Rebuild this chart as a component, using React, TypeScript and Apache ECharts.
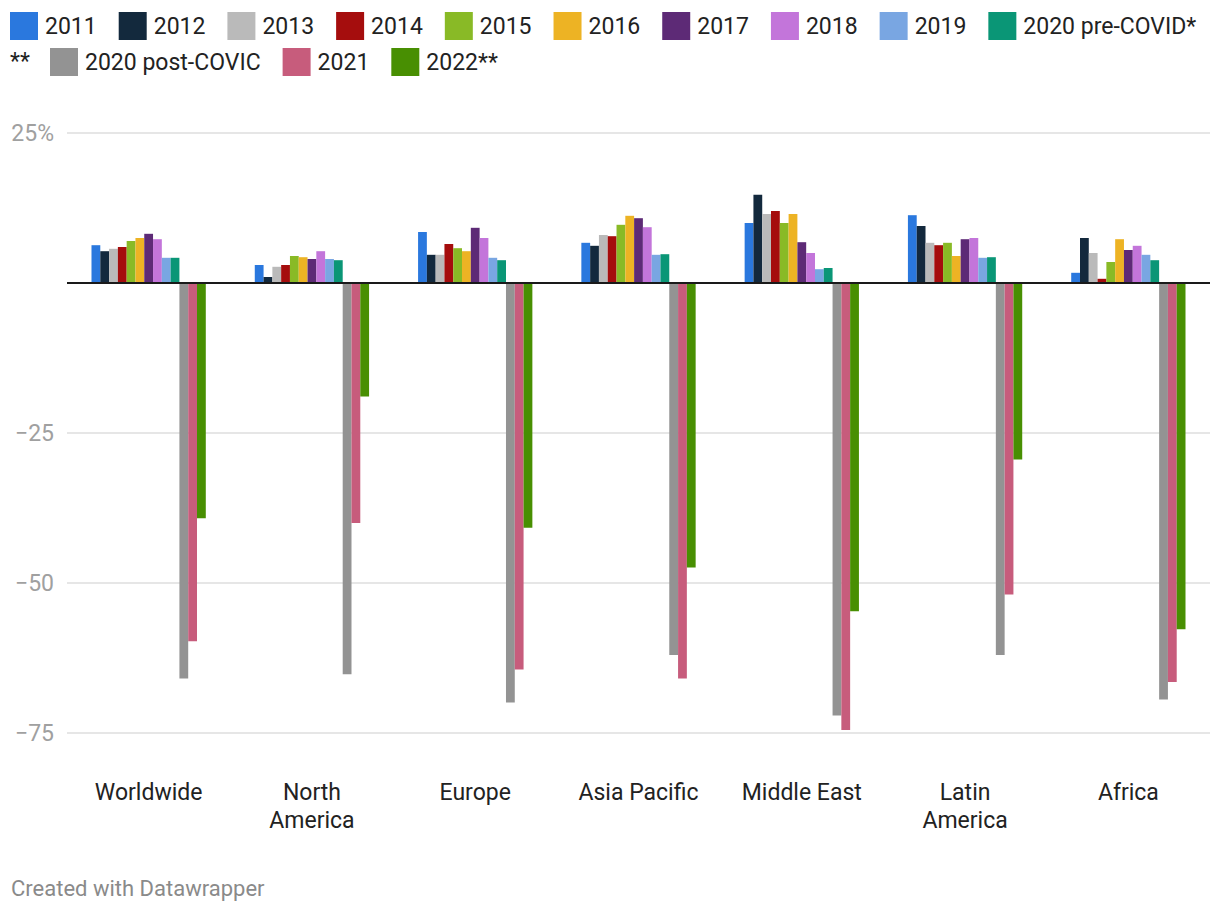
import React, { useEffect, useRef } from "react";
import * as echarts from "echarts";

const regions = ["Worldwide", "North\nAmerica", "Europe", "Asia Pacific", "Middle East", "Latin\nAmerica", "Africa"];

const seriesNames = [
  "2011", "2012", "2013", "2014", "2015", "2016", "2017", "2018", "2019",
  "2020 pre-COVID*", "2020 post-COVIC", "2021", "2022**",
];

const v2011 = [6.3, 3.0, 8.5, 6.7, 10.0, 11.3, 1.7];
const v2012 = [5.3, 1.0, 4.7, 6.2, 14.7, 9.5, 7.5];
const v2013 = [5.7, 2.7, 4.7, 8.0, 11.5, 6.7, 5.0];
const v2014 = [6.0, 3.0, 6.5, 7.8, 12.0, 6.3, 0.7];
const v2015 = [7.0, 4.5, 5.8, 9.7, 10.0, 6.7, 3.5];
const v2016 = [7.5, 4.3, 5.3, 11.2, 11.5, 4.5, 7.3];
const v2017 = [8.2, 4.0, 9.2, 10.8, 6.8, 7.3, 5.5];
const v2018 = [7.3, 5.3, 7.5, 9.3, 5.0, 7.5, 6.2];
const v2019 = [4.2, 4.0, 4.2, 4.7, 2.3, 4.2, 4.7];
const v2020pre = [4.2, 3.8, 3.8, 4.8, 2.5, 4.3, 3.8];
const v2020post = [-65.9, -65.2, -69.9, -62.0, -72.1, -62.0, -69.4];
const v2021 = [-59.7, -40.0, -64.4, -65.9, -74.5, -51.9, -66.5];
const v2022 = [-39.2, -18.9, -40.8, -47.4, -54.7, -29.4, -57.7];

const seriesValues = [v2011, v2012, v2013, v2014, v2015, v2016, v2017, v2018, v2019, v2020pre, v2020post, v2021, v2022];

const colors = [
  "#2a78de", "#13293d", "#bababa", "#a50d0d", "#89ba26", "#edb324", "#5d2a76",
  "#c375da", "#79a6e2", "#0a9676", "#939393", "#c75c7c", "#488f02",
];

const yTicks = [25, 0, -25, -50, -75];
const yTickLabels = ["25%", "", "\u221225", "\u221250", "\u221275"];

const legendRow1 = seriesNames.slice(0, 10);
const legendRow2 = seriesNames.slice(10);

const FONT = "Roboto, 'Noto Sans', sans-serif";

export default function App() {
  const ref = useRef<HTMLDivElement>(null);

  useEffect(() => {
    if (!ref.current) return;
    const chart = echarts.init(ref.current, undefined, { renderer: "svg" });

    const series = seriesNames.map((name, i) => {
      const s: any = {
        name,
        type: "bar",
        data: seriesValues[i],
        itemStyle: { color: colors[i] },
        barGap: "0%",
        barCategoryGap: "30%",
        emphasis: { disabled: true },
      };
      if (i === 0) {
        s.markLine = {
          silent: true,
          symbol: ["none", "none"],
          label: { show: false },
          lineStyle: { color: "#1a1a1a", width: 2, type: "solid" },
          data: [{ yAxis: 0 }],
          z: 10,
        };
      }
      return s;
    });

    const legendCommon = {
      orient: "horizontal",
      padding: 0,
      itemWidth: 28,
      itemHeight: 28,
      itemGap: 22,
      icon: "rect",
      width: 1210,
      selectedMode: false,
      textStyle: {
        fontFamily: FONT,
        fontSize: 23,
        color: "#222222",
        padding: [0, 0, 0, 2],
      },
    };

    chart.setOption({
      animation: false,
      color: colors,
      textStyle: { fontFamily: FONT },
      legend: [
        { ...legendCommon, left: 10, top: 12, data: legendRow1 },
        { ...legendCommon, left: 50, top: 48, data: legendRow2 },
      ],
      graphic: [
        {
          type: "text",
          left: 10,
          top: 50,
          style: { text: "**", fontFamily: FONT, fontSize: 23, fill: "#222222" },
        },
        {
          type: "text",
          left: 11,
          top: 877,
          style: { text: "Created with Datawrapper", fontFamily: FONT, fontSize: 22, fill: "#8a8a8a" },
        },
      ],
      grid: { left: 67, right: 10, top: 133, bottom: 181, containLabel: false },
      xAxis: {
        type: "category",
        data: regions,
        axisLine: { show: false, onZero: false },
        axisTick: { show: false },
        axisLabel: {
          margin: 45,
          fontSize: 23,
          lineHeight: 28,
          color: "#222222",
          fontFamily: FONT,
          interval: 0,
        },
      },
      yAxis: {
        type: "value",
        min: -75,
        max: 25,
        interval: 25,
        axisLine: { show: false },
        axisTick: { show: false },
        splitLine: { lineStyle: { color: "#e6e6e6", width: 2 } },
        axisLabel: {
          margin: 13,
          fontSize: 23,
          color: "#a0a0a0",
          fontFamily: FONT,
          formatter: (v: number) => {
            const idx = yTicks.indexOf(v);
            return idx >= 0 ? yTickLabels[idx] : "";
          },
        },
      },
      series,
    });

    return () => chart.dispose();
  }, []);

  return (
    <div
      ref={ref}
      style={{ position: "fixed", left: 0, top: 0, width: 1220, height: 914, background: "#ffffff" }}
    />
  );
}
